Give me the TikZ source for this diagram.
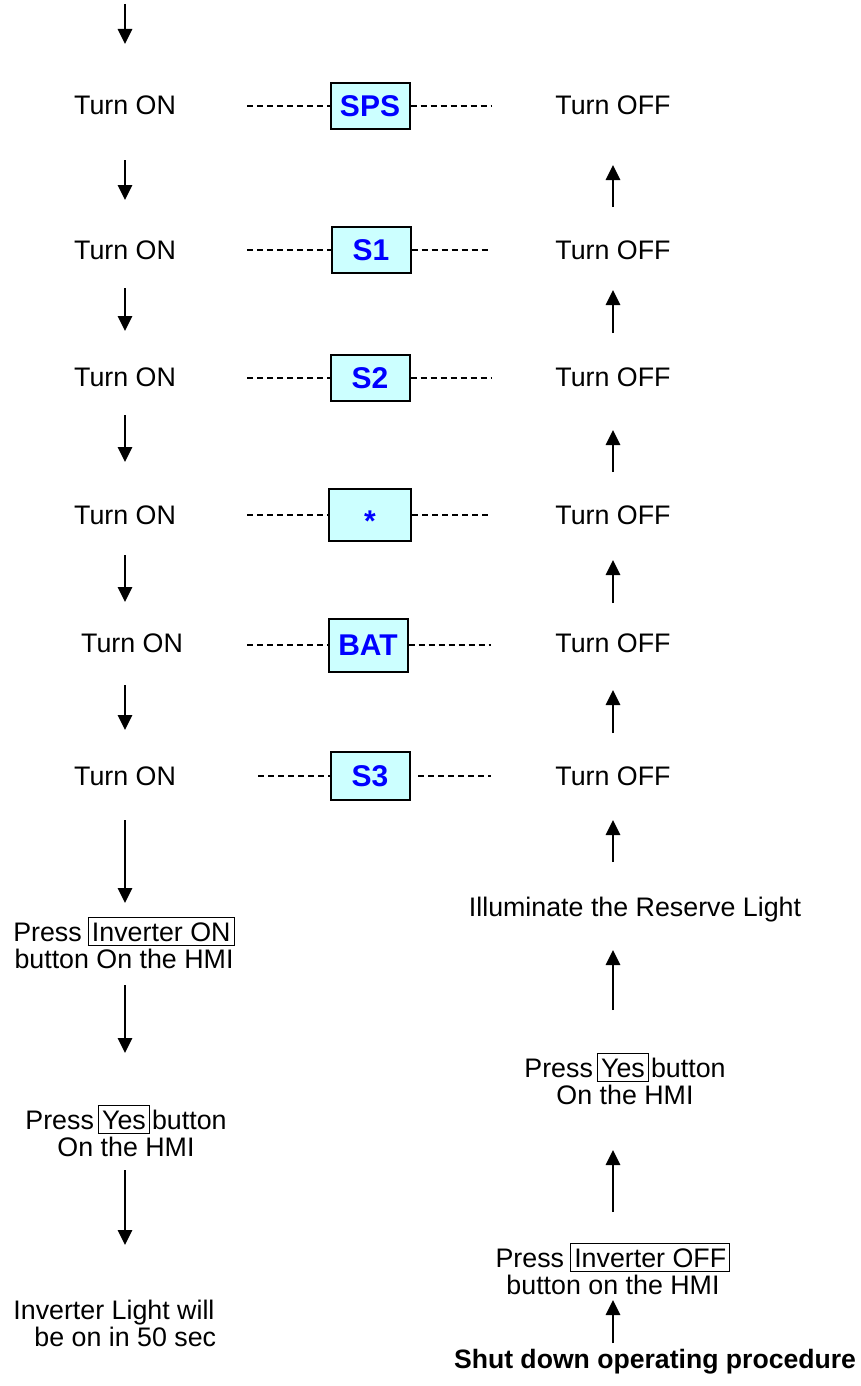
\documentclass[tikz,border=0pt]{standalone}
\usepackage{fontspec}
\setmainfont{Liberation Sans}
\usetikzlibrary{arrows.meta}
\definecolor{boxfill}{RGB}{204,255,255}
\definecolor{boxblue}{RGB}{0,0,255}
\newcommand{\btn}[1]{{\setlength\fboxsep{1.5pt}\setlength\fboxrule{0.6pt}\fbox{\rule{0pt}{10pt}#1}}}
\tikzset{
  txt/.style={font=\fontsize{13.4}{13.5}\selectfont, inner sep=0pt, align=center},
  one/.style={text height=9.6pt, text depth=0pt},
  sw/.style={draw, line width=1pt, fill=boxfill, font=\fontsize{15}{15}\bfseries\selectfont,
    text=boxblue, minimum width=39.5pt, minimum height=23pt, inner sep=0pt},
  arr/.style={-{Triangle[length=7.5pt,width=7.2pt]}, line width=1pt},
  dsh/.style={line width=1.1pt, dash pattern=on 3pt off 2pt}
}
\begin{document}
\begin{tikzpicture}[x=0.5pt,y=-0.5pt]
\setlength{\lineskiplimit}{-20pt}
\useasboundingbox (0,0) rectangle (861,1386);
% left column
\node[txt,one] (on1) at (125,105) {Turn ON};
\node[txt,one] (on2) at (125,250) {Turn ON};
\node[txt,one] (on3) at (125,377) {Turn ON};
\node[txt,one] (on4) at (125,515) {Turn ON};
\node[txt,one] (on5) at (132,643) {Turn ON};
\node[txt,one] (on6) at (125,776) {Turn ON};
\node[txt] (pinv) at (124,943) {Press\hspace{3pt}\btn{Inverter ON}\\button On the HMI};
\node[txt] (pyes1) at (126,1131) {Press\hspace{2pt}\btn{Yes}\hspace{1pt}button\\On the HMI};
\node[txt,align=left,anchor=west] (light) at (13,1323) {Inverter Light will\\\hspace*{10.5pt}be on in 50 sec};
% middle boxes
\node[sw] (sps) at (370,106) {SPS};
\node[sw] (s1) at (371,250) {S1};
\node[sw] (s2) at (370,378) {S2};
\node[sw,minimum width=41pt,minimum height=26pt] (star) at (370,515) {\raisebox{-8pt}[0pt][0pt]{*}};
\node[sw,minimum height=26.5pt] (bat) at (368,645) {BAT};
\node[sw,minimum height=24pt] (s3) at (370,776) {S3};
% right column
\node[txt,one] (off1) at (613,105) {Turn OFF};
\node[txt,one] (off2) at (613,250) {Turn OFF};
\node[txt,one] (off3) at (613,377) {Turn OFF};
\node[txt,one] (off4) at (613,515) {Turn OFF};
\node[txt,one] (off5) at (613,643) {Turn OFF};
\node[txt,one] (off6) at (613,776) {Turn OFF};
\node[txt,one] (illum) at (635,907) {Illuminate the Reserve Light};
\node[txt] (pyes2) at (625,1079) {Press\hspace{2pt}\btn{Yes}\hspace{1pt}button\\On the HMI};
\node[txt] (pinvoff) at (613,1269) {Press\hspace{3pt}\btn{Inverter OFF}\\button on the HMI};
\node[txt,one,font=\fontsize{13.3}{13.5}\bfseries\selectfont] (shut) at (655,1359) {Shut down operating procedure};
% dashed links
\coordinate (dl1) at (247,106); \coordinate (dr1) at (491,106);
\coordinate (dl2) at (247,250); \coordinate (dr2) at (491,250);
\coordinate (dl3) at (247,378); \coordinate (dr3) at (491,378);
\coordinate (dl4) at (247,515); \coordinate (dr4) at (491,515);
\coordinate (dl5) at (247,645); \coordinate (dr5) at (491,645);
\coordinate (dl6) at (258,776); \coordinate (dr6) at (491,776);
\coordinate (dr6s) at (418,776);
\draw[dsh] (dl1) -- (sps.west); \draw[dsh] (sps.east) -- (dr1);
\draw[dsh] (dl2) -- (s1.west); \draw[dsh] (s1.east) -- (dr2);
\draw[dsh] (dl3) -- (s2.west); \draw[dsh] (s2.east) -- (dr3);
\draw[dsh] (dl4) -- (star.west); \draw[dsh] (star.east) -- (dr4);
\draw[dsh] (dl5) -- (bat.west); \draw[dsh] (bat.east) -- (dr5);
\draw[dsh] (dl6) -- (s3.west); \draw[dsh] (dr6s) -- (dr6);
% left arrows
\coordinate (top) at (125,4);
\draw[arr, shorten >=30.5pt] (top) -- (on1.center);
\draw[arr, shorten <=27.5pt, shorten >=25pt] (on1.center) -- (on2.center);
\draw[arr, shorten <=19pt, shorten >=23pt] (on2.center) -- (on3.center);
\draw[arr, shorten <=19pt, shorten >=26.5pt] (on3.center) -- (on4.center);
\draw[arr, shorten <=20pt, shorten >=20.5pt] (on4.center) -- (on4.center |- on5.center);
\draw[arr, shorten <=21pt, shorten >=23pt] (on6.center |- on5.center) -- (on6.center);
\draw[arr, shorten <=22pt, shorten >=20pt] (on6.center) -- (on6.center |- pinv.center);
\draw[arr, shorten <=21pt, shorten >=39pt] (on6.center |- pinv.center) -- (on6.center |- pyes1.center);
\draw[arr, shorten <=19.5pt, shorten >=39pt] (on6.center |- pyes1.center) -- (on6.center |- light.center);
% right arrows
\draw[arr, shorten <=21.5pt, shorten >=30pt] (off2.center) -- (off1.center);
\draw[arr, shorten <=22pt, shorten >=20pt] (off3.center) -- (off2.center);
\draw[arr, shorten <=21.5pt, shorten >=26.5pt] (off4.center) -- (off3.center);
\draw[arr, shorten <=20pt, shorten >=22.5pt] (off5.center) -- (off4.center);
\draw[arr, shorten <=21.5pt, shorten >=23.5pt] (off6.center) -- (off5.center);
\draw[arr, shorten <=22.5pt, shorten >=22pt] (off6.center |- illum.center) -- (off6.center);
\draw[arr, shorten <=34.5pt, shorten >=21.5pt] (off6.center |- pyes2.center) -- (off6.center |- illum.center);
\draw[arr, shorten <=28.5pt, shorten >=35.5pt] (off6.center |- pinvoff.center) -- (off6.center |- pyes2.center);
\draw[arr, shorten <=8pt, shorten >=15.5pt] (off6.center |- shut.center) -- (off6.center |- pinvoff.center);
\end{tikzpicture}
\end{document}
